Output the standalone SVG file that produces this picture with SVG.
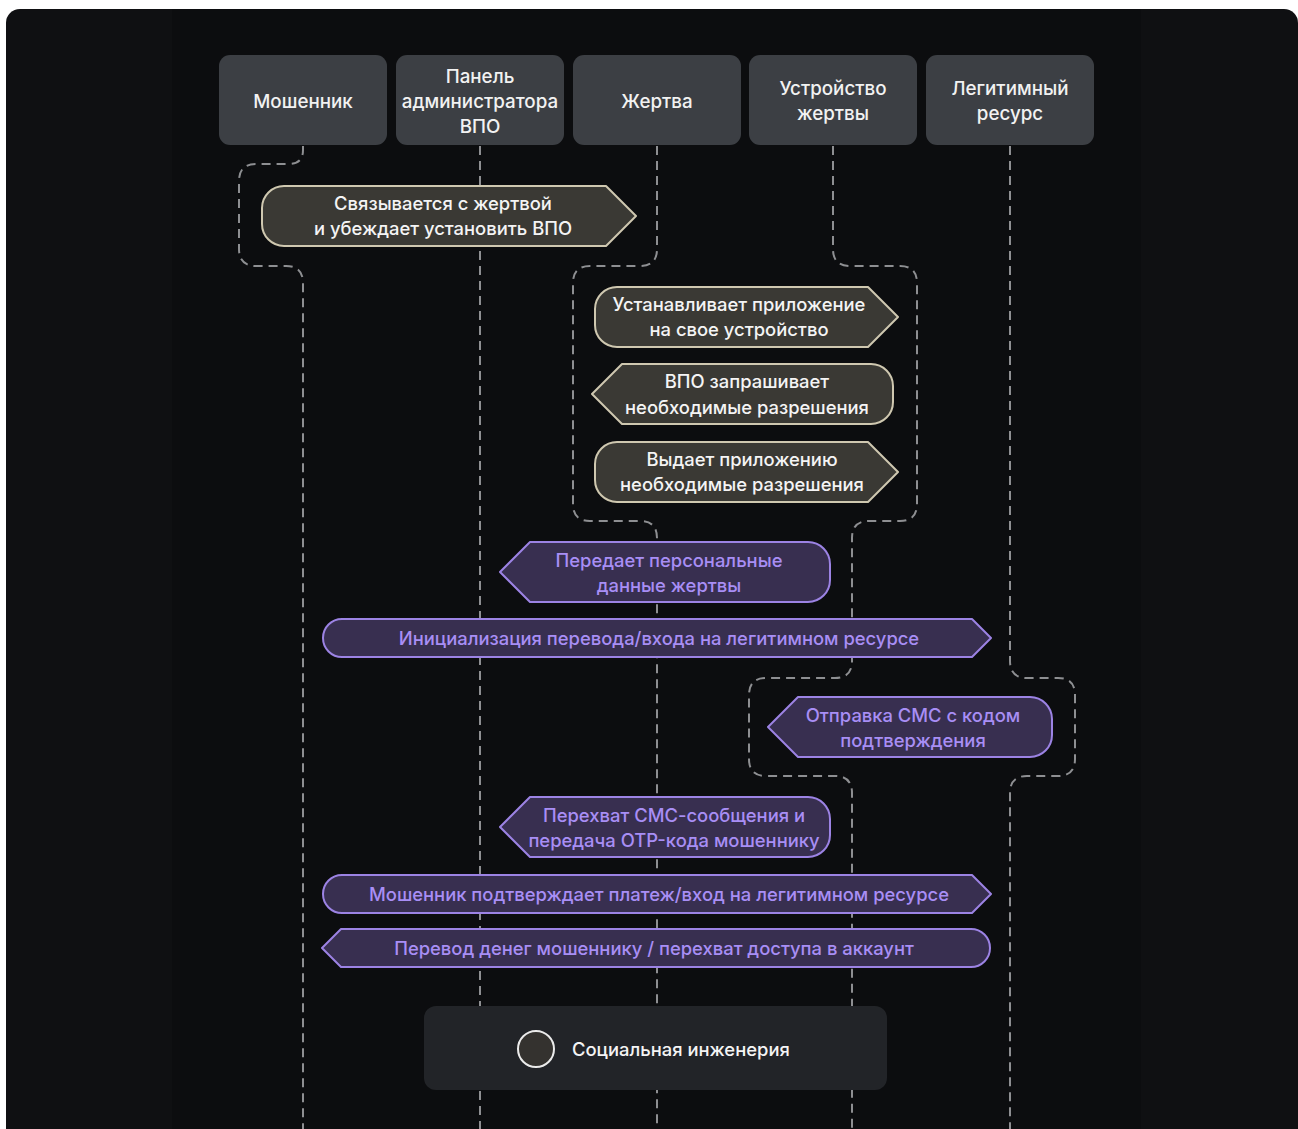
<svg xmlns="http://www.w3.org/2000/svg" width="1298" height="1129" viewBox="0 0 1298 1129">
<style>
.hdr{fill:#3c3f44}
.ht{fill:#f2f2f2;font-family:Inter,"Noto Sans",sans-serif;font-size:18.8px;font-weight:500;text-anchor:middle;dominant-baseline:central}
.life{fill:none;stroke:#8e8f92;stroke-width:2;stroke-dasharray:9 6}
.dk{fill:#3a3934;stroke:#cfc8b0;stroke-width:2;stroke-linejoin:round}
.pu{fill:#382f50;stroke:#9c83e4;stroke-width:2;stroke-linejoin:round}
.dt{fill:#f4f4f4;font-family:Inter,"Noto Sans",sans-serif;font-size:18.4px;font-weight:500;text-anchor:middle;dominant-baseline:central}
.pt{fill:#a88ef5;font-family:Inter,"Noto Sans",sans-serif;font-size:18.4px;font-weight:500;text-anchor:middle;dominant-baseline:central}
</style>
<rect x="0" y="0" width="1298" height="1129" fill="#ffffff"/>
<rect x="6" y="9" width="1292" height="1140" rx="14" fill="#0f1012"/>
<rect x="172" y="9" width="969" height="1120" fill="#0c0d0f"/>

<g id="connectors">
<path class="life" d="M303,146 V150 Q303,164 289,164 H256 Q239,164 239,181 V249 Q239,266 256,266 H286 Q303,266 303,283 V1129"/>
<path class="life" d="M480,146 V1129"/>
<path class="life" d="M657,146 V249 Q657,266 640,266 H590 Q573,266 573,283 V504 Q573,521 590,521 H640 Q657,521 657,538 V1129"/>
<path class="life" d="M833,146 V249 Q833,266 850,266 H900 Q917,266 917,283 V504 Q917,521 900,521 H869 Q852,521 852,538 V661 Q852,678 835,678 H766 Q749,678 749,695 V759 Q749,776 766,776 H835 Q852,776 852,793 V1129"/>
<path class="life" d="M1010,146 V661 Q1010,678 1027,678 H1058 Q1075,678 1075,695 V759 Q1075,776 1058,776 H1027 Q1010,776 1010,793 V1129"/>
</g>

<g id="h-moshennik"><rect class="hdr" x="219" y="55" width="168" height="90" rx="11"/><text class="ht" x="303" y="101">Мошенник</text></g>
<g id="h-panel"><rect class="hdr" x="396" y="55" width="168" height="90" rx="11"/><text class="ht" x="480" y="76">Панель</text><text class="ht" x="480" y="101">администратора</text><text class="ht" x="480" y="126">ВПО</text></g>
<g id="h-zhertva"><rect class="hdr" x="573" y="55" width="168" height="90" rx="11"/><text class="ht" x="657" y="101">Жертва</text></g>
<g id="h-device"><rect class="hdr" x="749" y="55" width="168" height="90" rx="11"/><text class="ht" x="833" y="88">Устройство</text><text class="ht" x="833" y="113">жертвы</text></g>
<g id="h-legit"><rect class="hdr" x="926" y="55" width="168" height="90" rx="11"/><text class="ht" x="1010" y="88">Легитимный</text><text class="ht" x="1010" y="113">ресурс</text></g>

<g id="m1"><path class="dk" d="M284,186 H606 L636,216 L606,246 H284 A22,22 0 0 1 262,224 V208 A22,22 0 0 1 284,186 Z"/><text class="dt" x="443" y="203">Связывается с жертвой</text><text class="dt" x="443" y="228">и убеждает установить ВПО</text></g>
<g id="m2"><path class="dk" d="M617,287 H868 L898,317 L868,347 H617 A22,22 0 0 1 595,325 V309 A22,22 0 0 1 617,287 Z"/><text class="dt" x="739" y="304">Устанавливает приложение</text><text class="dt" x="739" y="329">на свое устройство</text></g>
<g id="m3"><path class="dk" d="M592,394 L622,364 H871 A22,22 0 0 1 893,386 V402 A22,22 0 0 1 871,424 H622 Z"/><text class="dt" x="747" y="381">ВПО запрашивает</text><text class="dt" x="747" y="407">необходимые разрешения</text></g>
<g id="m4"><path class="dk" d="M617,442 H868 L898,472 L868,502 H617 A22,22 0 0 1 595,480 V464 A22,22 0 0 1 617,442 Z"/><text class="dt" x="742" y="459">Выдает приложению</text><text class="dt" x="742" y="484">необходимые разрешения</text></g>

<g id="m5"><path class="pu" d="M500,572 L530,542 H808 A22,22 0 0 1 830,564 V580 A22,22 0 0 1 808,602 H530 Z"/><text class="pt" x="669" y="560">Передает персональные</text><text class="pt" x="669" y="585">данные жертвы</text></g>
<g id="m6"><path class="pu" d="M342,619 H972 L991,638 L972,657 H342 A19,19 0 0 1 342,619 Z"/><text class="pt" x="659" y="638">Инициализация перевода/входа на легитимном ресурсе</text></g>
<g id="m7"><path class="pu" d="M768,727 L798,697 H1030 A22,22 0 0 1 1052,719 V735 A22,22 0 0 1 1030,757 H798 Z"/><text class="pt" x="913" y="715">Отправка СМС с кодом</text><text class="pt" x="913" y="740">подтверждения</text></g>
<g id="m8"><path class="pu" d="M500,827 L530,797 H808 A22,22 0 0 1 830,819 V835 A22,22 0 0 1 808,857 H530 Z"/><text class="pt" x="674" y="815">Перехват СМС-сообщения и</text><text class="pt" x="674" y="840">передача OTP-кода мошеннику</text></g>
<g id="m9"><path class="pu" d="M342,875 H972 L991,894 L972,913 H342 A19,19 0 0 1 342,875 Z"/><text class="pt" x="659" y="894">Мошенник подтверждает платеж/вход на легитимном ресурсе</text></g>
<g id="m10"><path class="pu" d="M322,948 L341,929 H971 A19,19 0 0 1 971,967 H341 Z"/><text class="pt" x="654" y="948">Перевод денег мошеннику / перехват доступа в аккаунт</text></g>

<g id="legend"><rect x="424" y="1006" width="463" height="84" rx="12" fill="#222428"/><circle cx="536" cy="1049" r="18" fill="#34322f" stroke="#ebebeb" stroke-width="2"/><text class="dt" x="572" y="1049" style="text-anchor:start">Социальная инженерия</text></g>
</svg>
